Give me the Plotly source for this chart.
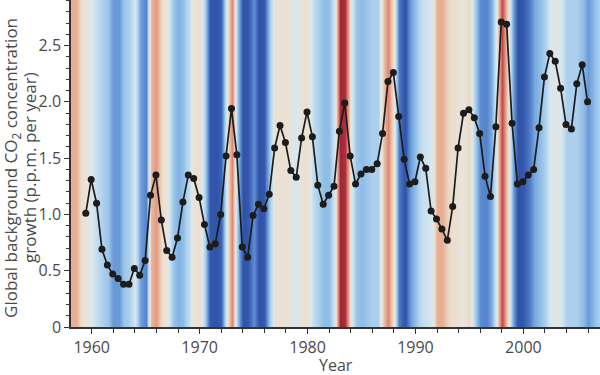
import numpy as np
import plotly.graph_objects as go

# Semi-annual sample times (years)
years = list(np.round(1959.45 + 0.5 * np.arange(94), 2))

co2_growth = [
    1.01, 1.31, 1.10, 0.69, 0.55, 0.47, 0.43, 0.38, 0.38, 0.52,
    0.46, 0.59, 1.17, 1.35, 0.95, 0.68, 0.62, 0.79, 1.11, 1.35,
    1.32, 1.15, 0.91, 0.71, 0.74, 1.00, 1.52, 1.94, 1.53, 0.71,
    0.62, 0.99, 1.09, 1.05, 1.18, 1.59, 1.79, 1.64, 1.39, 1.33,
    1.68, 1.91, 1.69, 1.26, 1.09, 1.17, 1.25, 1.74, 1.99, 1.52,
    1.27, 1.36, 1.40, 1.40, 1.45, 1.72, 2.18, 2.26, 1.87, 1.49,
    1.27, 1.29, 1.51, 1.41, 1.03, 0.96, 0.87, 0.77, 1.07, 1.59,
    1.90, 1.93, 1.86, 1.72, 1.34, 1.16, 1.78, 2.71, 2.69, 1.81,
    1.27, 1.29, 1.35, 1.40, 1.77, 2.22, 2.43, 2.36, 2.12, 1.80,
    1.76, 2.16, 2.33, 2.00,
]

# Background climate index (ENSO-like), half-year grid 1958.0 .. 2007.0
enso_years = list(np.round(1958.0 + 0.5 * np.arange(99), 1))
enso_index = [
    0.35, 0.35, 0.10, 0.00, -0.10, -0.20, -0.30, -0.35, -0.55, -0.55,
    -0.35, -0.30, -0.10, -0.50, -0.65, 0.30, 0.45, 0.10, 0.00, -0.35,
    -0.45, -0.40, -0.20, 0.05, 0.05, -0.30, -0.85, -0.90, -0.80, 0.00,
    0.55, -0.30, -0.90, -0.85, -0.60, -0.90, -0.85, -0.30, 0.05, 0.05,
    0.05, -0.05, -0.10, 0.05, 0.05, -0.20, -0.30, -0.40, -0.40, -0.10,
    1.00, 0.95, -0.05, -0.35, -0.40, -0.35, -0.30, -0.30, 0.20, 0.55,
    0.00, -0.70, -0.90, -0.55, -0.40, -0.20, -0.15, -0.10, 0.35, 0.35,
    0.15, 0.10, 0.00, 0.00, 0.15, -0.30, -0.60, -0.65, -0.50, -0.10,
    0.85, 0.20, -0.50, -0.90, -0.85, -0.70, -0.50, -0.40, -0.30, -0.10,
    -0.05, -0.10, -0.30, -0.30, -0.30, -0.40, -0.55, -0.40, -0.30,
]

y_ticks = [0, 0.5, 1.0, 1.5, 2.0, 2.5]
y_tick_text = ["0", "0.5", "1.0", "1.5", "2.0", "2.5"]
x_ticks = [1960, 1970, 1980, 1990, 2000]

colorscale = [
    [0.000, "#2a4a9e"],
    [0.075, "#3458ad"],
    [0.200, "#5e8dd2"],
    [0.300, "#8fbde7"],
    [0.360, "#b0d2ed"],
    [0.450, "#d8e7ee"],
    [0.500, "#e9e3d9"],
    [0.560, "#ecdccb"],
    [0.675, "#e7ae94"],
    [0.775, "#db8876"],
    [0.925, "#bf4a50"],
    [1.000, "#a02438"],
]

fig = go.Figure()
fig.add_trace(go.Heatmap(
    x=enso_years, y=[0, 3.0], z=[enso_index, enso_index],
    zmin=-1, zmax=1, colorscale=colorscale, zsmooth="best",
    showscale=False, hoverinfo="skip",
))
fig.add_trace(go.Scatter(
    x=years, y=co2_growth, mode="lines+markers",
    line=dict(color="#1c1c1c", width=1.7),
    marker=dict(color="#1c1c1c", size=7),
    showlegend=False,
))

font_col = "#4a4a4a"
fig.update_layout(
    width=600, height=375,
    margin=dict(l=71, r=0, t=0, b=48),
    paper_bgcolor="white", plot_bgcolor="white",
    font=dict(family="Open Sans, sans-serif", size=16, color=font_col),
    xaxis=dict(
        range=[1958.08, 2007.1], tickvals=x_ticks, ticks="outside",
        ticklen=5, tickcolor="#333", tickwidth=1,
        showline=True, linecolor="#333", linewidth=1.5,
        showgrid=False, zeroline=False, automargin=False,
        tickfont=dict(size=16, color=font_col),
        minor=dict(dtick=2, tick0=1960, ticks="outside", ticklen=4,
                   tickcolor="#333", showgrid=False),
    ),
    yaxis=dict(
        range=[0, 2.905], tickvals=y_ticks, ticktext=y_tick_text,
        ticks="outside", ticklen=5, tickcolor="#333", tickwidth=1,
        showline=True, linecolor="#333", linewidth=1.5,
        showgrid=False, zeroline=False, automargin=False,
        tickfont=dict(size=16, color=font_col),
        minor=dict(dtick=0.1, tick0=0, ticks="outside", ticklen=3,
                   tickcolor="#333", showgrid=False),
    ),
    annotations=[
        dict(text="Year", xref="paper", yref="paper", x=0.5, y=-0.116,
             xanchor="center", yanchor="middle", showarrow=False,
             font=dict(size=16, color=font_col)),
        dict(text="Global background CO<sub>2</sub> concentration",
             xref="paper", yref="paper", x=-0.1125, y=0.488, textangle=-90,
             xanchor="center", yanchor="middle", showarrow=False,
             font=dict(size=17, color=font_col)),
        dict(text="growth (p.p.m. per year)",
             xref="paper", yref="paper", x=-0.0785, y=0.488, textangle=-90,
             xanchor="center", yanchor="middle", showarrow=False,
             font=dict(size=17, color=font_col)),
    ],
)

fig.write_html(
    "out.html",
    config={"displayModeBar": False},
    post_script="document.body.style.margin='0';document.body.style.padding='0';",
)
